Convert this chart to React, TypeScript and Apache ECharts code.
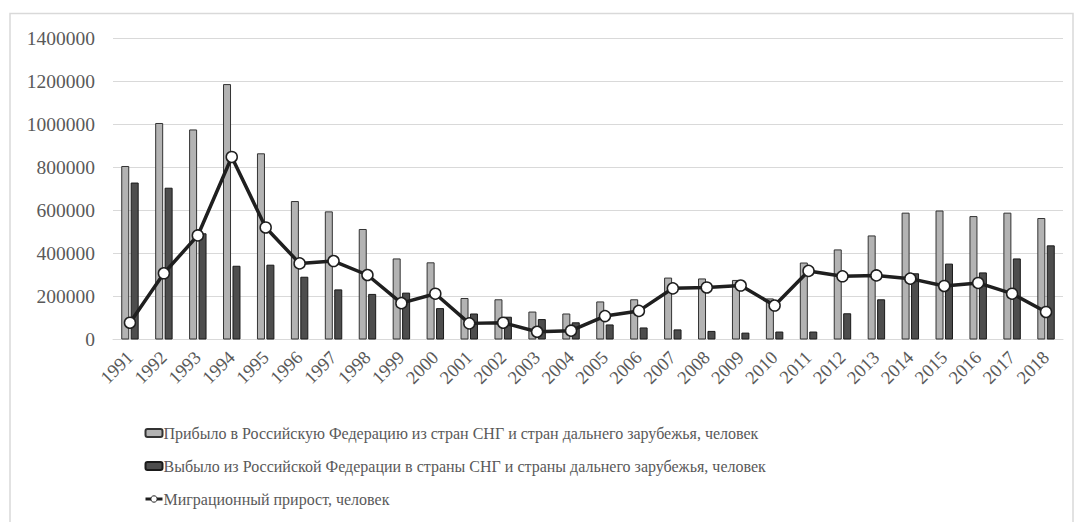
import React, { useEffect, useRef } from "react";
import * as echarts from "echarts";

const years = [
  "1991","1992","1993","1994","1995","1996","1997","1998","1999","2000",
  "2001","2002","2003","2004","2005","2006","2007","2008","2009","2010",
  "2011","2012","2013","2014","2015","2016","2017","2018",
];

const arrived = [
  807000, 1007000, 977000, 1188000, 866000, 644000, 596000, 514000, 377000, 359000,
  193000, 187000, 130000, 121000, 177000, 187000, 288000, 284000, 277000, 191000,
  358000, 419000, 484000, 590000, 600000, 574000, 590000, 565000,
];

const departed = [
  730000, 706000, 494000, 343000, 348000, 292000, 233000, 212000, 218000, 146000,
  121000, 106000, 95000, 80000, 70000, 56000, 47000, 40000, 32000, 37000,
  37000, 122000, 187000, 308000, 353000, 312000, 377000, 438000,
];

const netGain = [
  78000, 308000, 484000, 849000, 521000, 354000, 365000, 300000, 169000, 213000,
  75000, 78000, 36000, 41000, 109000, 133000, 238000, 242000, 251000, 158000,
  319000, 294000, 298000, 283000, 249000, 263000, 213000, 128000,
];

const seriesNames = [
  "Прибыло в Российскую Федерацию из стран СНГ и стран дальнего зарубежья, человек",
  "Выбыло из Российской Федерации в страны СНГ и страны дальнего зарубежья, человек",
  "Миграционный прирост, человек",
];

const FONT = "Liberation Serif";

export default function App() {
  const ref = useRef<HTMLDivElement>(null);
  useEffect(() => {
    if (!ref.current) return;
    const chart = echarts.init(ref.current, undefined, { renderer: "svg" });
    chart.setOption({
      animation: false,
      backgroundColor: "#ffffff",
      textStyle: { fontFamily: FONT },
      graphic: [
        {
          type: "rect",
          shape: { x: 10, y: 13.5, width: 1063, height: 530 },
          style: { fill: "none", stroke: "#d9d9d9", lineWidth: 1.5 },
          silent: true,
        },
      ],
      grid: { left: 113, right: 12, top: 38.5, bottom: 182.5, containLabel: false },
      xAxis: {
        type: "category",
        data: years,
        axisLine: { show: true, lineStyle: { color: "#d9d9d9", width: 1 } },
        axisTick: { show: false },
        axisLabel: {
          rotate: 45,
          color: "#595959",
          fontFamily: FONT,
          fontSize: 18.5,
          margin: 15,
          interval: 0,
        },
      },
      yAxis: {
        type: "value",
        min: 0,
        max: 1400000,
        interval: 200000,
        axisLine: { show: false },
        axisTick: { show: false },
        splitLine: { lineStyle: { color: "#d9d9d9", width: 1 } },
        axisLabel: {
          color: "#595959",
          fontFamily: FONT,
          fontSize: 19.5,
          margin: 18,
          formatter: (v: number) => String(v),
        },
      },
      legend: {
        orient: "vertical",
        left: 139,
        top: 420,
        itemGap: 17,
        itemWidth: 17,
        itemHeight: 8,
        textStyle: { color: "#595959", fontFamily: FONT, fontSize: 16, padding: [0, 0, 0, -4] },
        data: [
          { name: seriesNames[0] },
          { name: seriesNames[1] },
          {
            name: seriesNames[2],
            lineStyle: { width: 3, color: "#1f1f1f" },
            itemStyle: { color: "#ffffff", borderColor: "#1f1f1f", borderWidth: 1 },
          },
        ],
      },
      series: [
        {
          name: seriesNames[0],
          type: "bar",
          data: arrived,
          barWidth: 8,
          barGap: "18%",
          itemStyle: { color: "#b3b3b3", borderColor: "#333333", borderWidth: 1 },
        },
        {
          name: seriesNames[1],
          type: "bar",
          data: departed,
          barWidth: 8,
          itemStyle: { color: "#4d4d4d", borderColor: "#1a1a1a", borderWidth: 1 },
        },
        {
          name: seriesNames[2],
          type: "line",
          data: netGain,
          symbol: "circle",
          symbolSize: 11,
          lineStyle: { color: "#1f1f1f", width: 3.5 },
          itemStyle: { color: "#ffffff", borderColor: "#1f1f1f", borderWidth: 1.5 },
          z: 5,
        },
      ],
    });
    return () => chart.dispose();
  }, []);
  return (
    <div
      ref={ref}
      style={{ position: "fixed", left: 0, top: 0, width: 1075, height: 522 }}
    />
  );
}
